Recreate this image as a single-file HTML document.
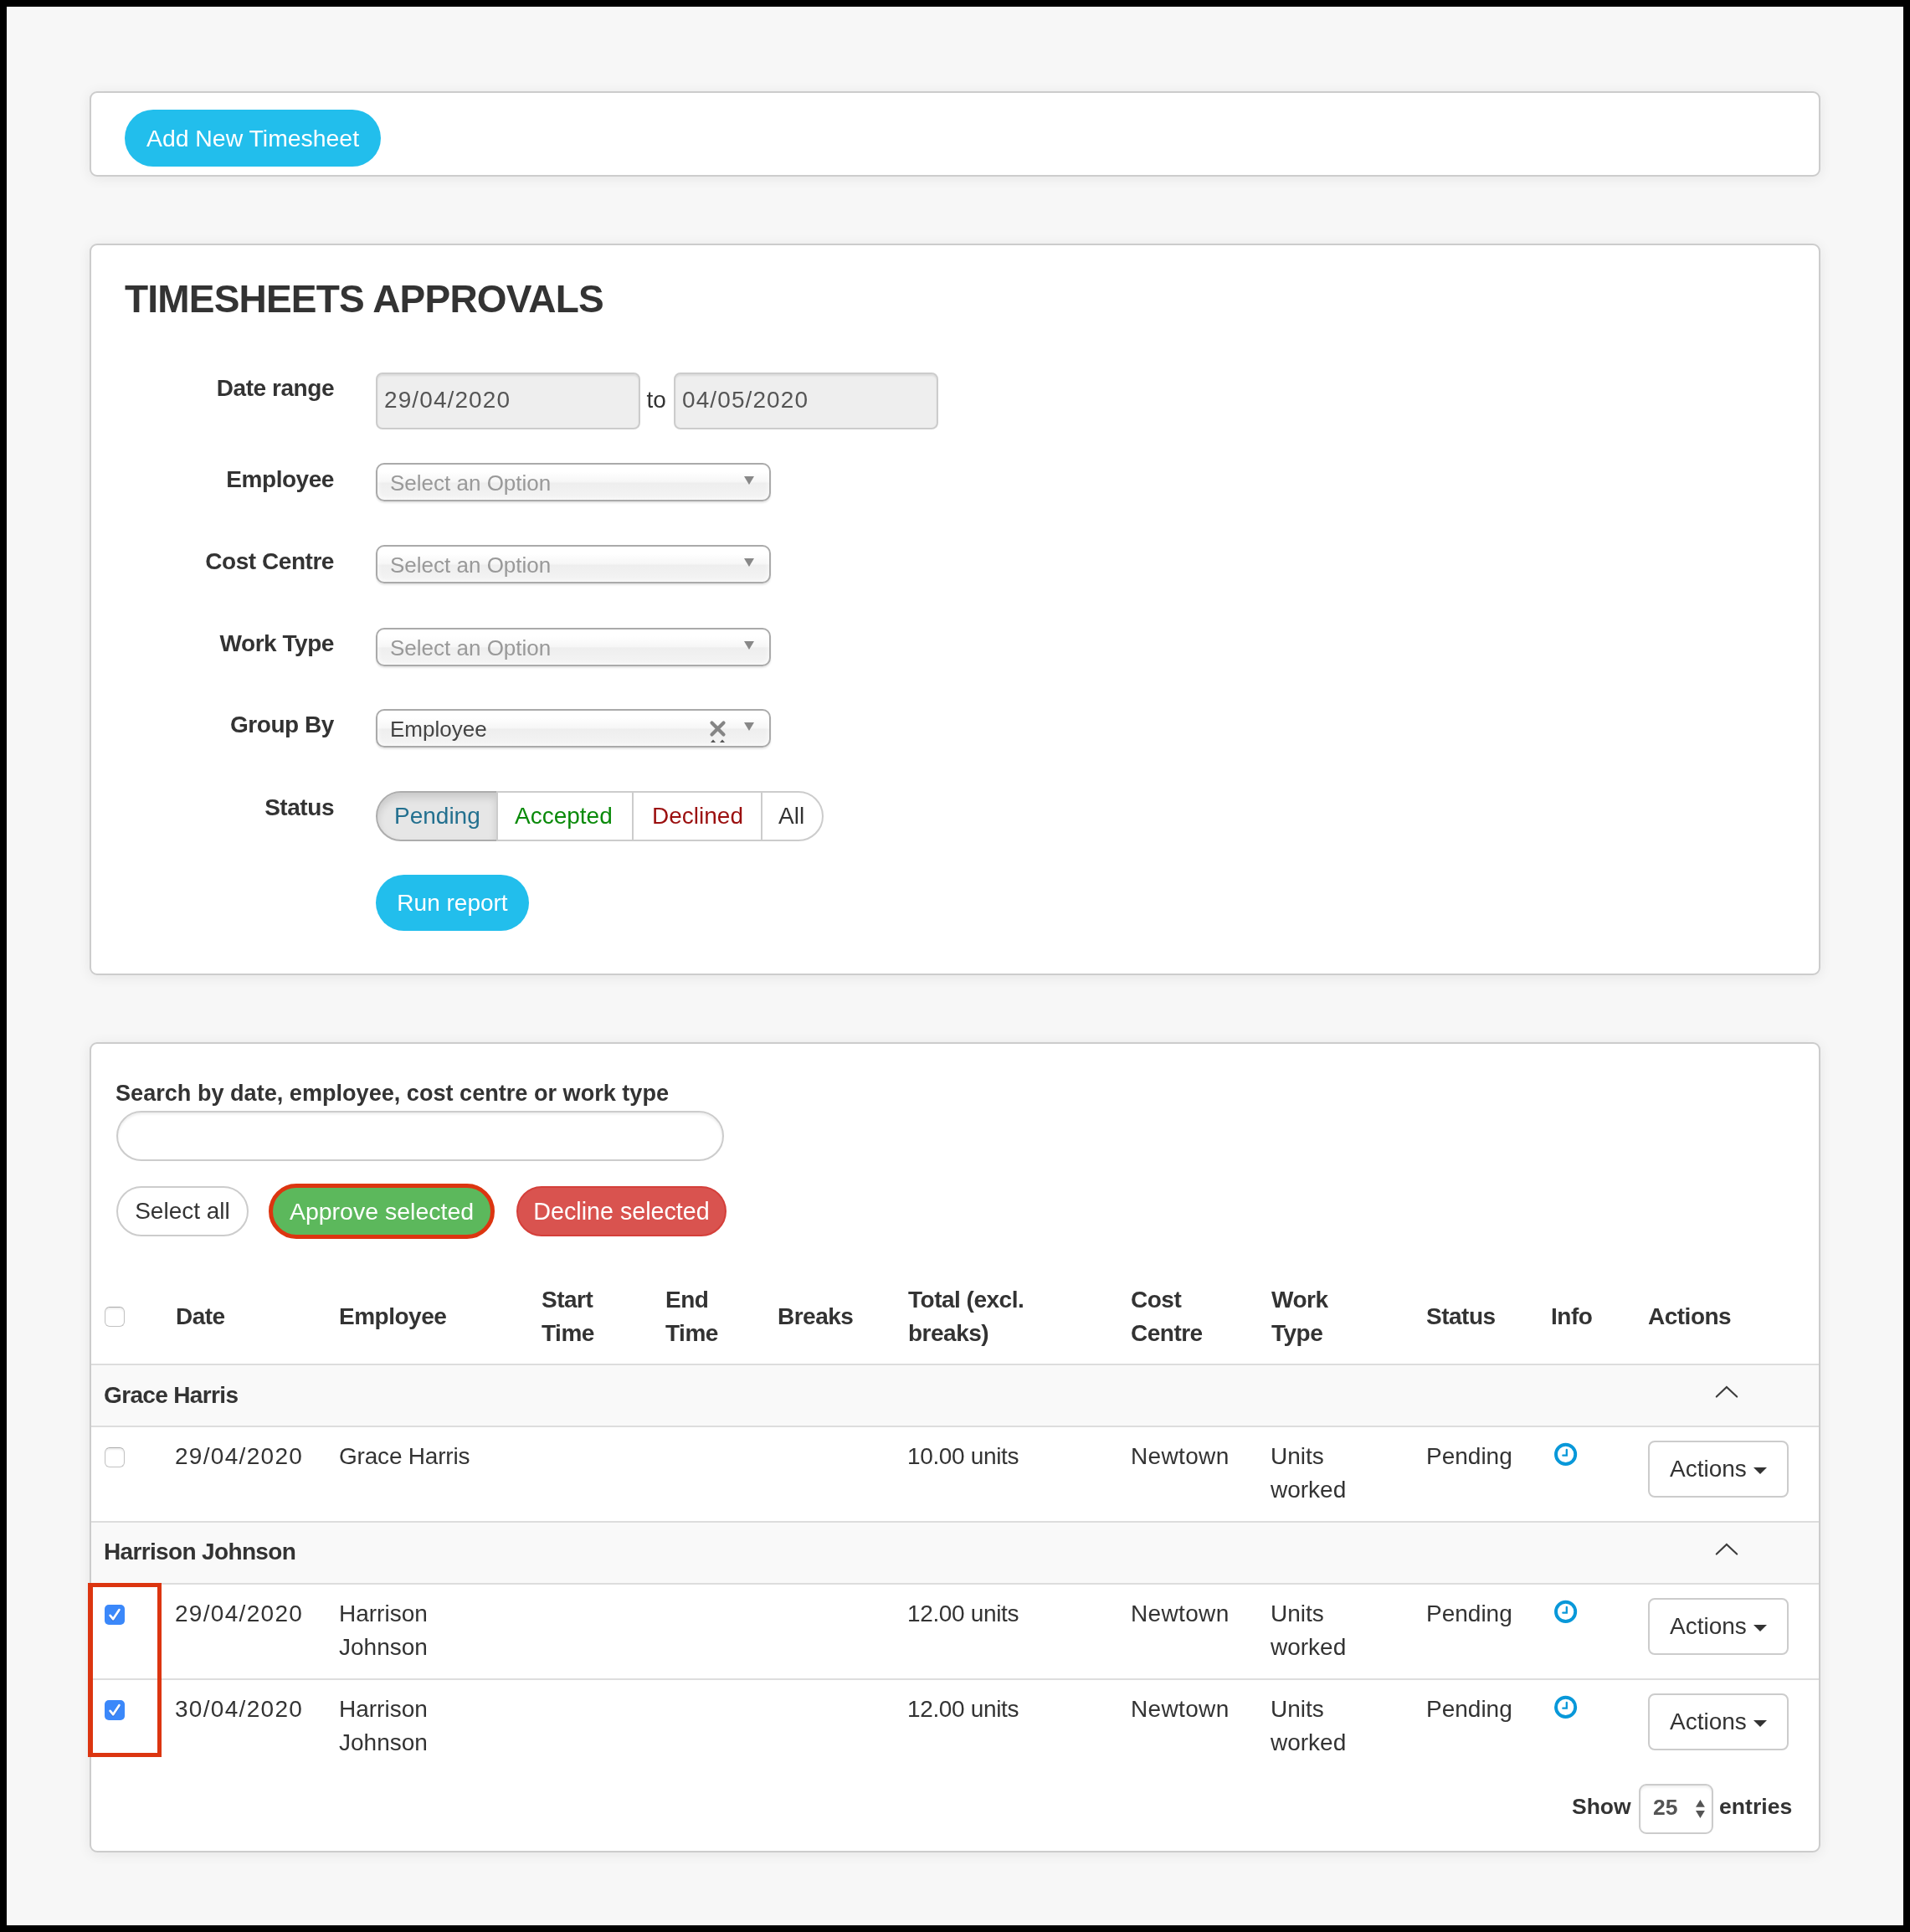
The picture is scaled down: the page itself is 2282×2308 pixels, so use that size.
<!DOCTYPE html>
<html>
<head>
<meta charset="utf-8">
<style>
*{box-sizing:border-box;margin:0;padding:0}
html,body{width:2282px;height:2308px;overflow:hidden;background:#000}
body{font-family:"Liberation Sans",sans-serif;color:#333;position:relative}
#pg{position:absolute;left:8px;top:8px;width:2266px;height:2292px;background:#f7f7f7}
.card{position:absolute;left:107px;width:2068px;background:#fff;border:2px solid #ccc;border-radius:9px;box-shadow:0 2px 16px rgba(0,0,0,.075)}
.t{position:absolute;white-space:nowrap;font-size:28px;line-height:40px}
.b{font-weight:bold;letter-spacing:-0.5px}
.btn{position:absolute;display:flex;align-items:center;justify-content:center;white-space:nowrap;font-size:28px;line-height:40px}
.blue{background:#22beec;color:#fff;border-radius:34px}
.lbl{position:absolute;white-space:nowrap;font-size:28px;letter-spacing:-0.45px;line-height:40px;font-weight:bold;text-align:right;right:calc(2282px - 399px);color:#333}
.date{position:absolute;top:445px;height:68px;width:316px;background:#eee;border:2px solid #ccc;border-radius:8px;box-shadow:inset 0 2px 2px rgba(0,0,0,.075);color:#555;font-size:28px;line-height:40px;padding:11px 0 0 8px;letter-spacing:1.1px}
.sel{position:absolute;left:449px;width:472px;height:46px;border:2px solid #aaa;border-radius:10px;background:linear-gradient(#fff 20%,#f6f6f6 50%,#eee 52%,#f4f4f4 100%);box-shadow:0 0 6px #fff inset,0 2px 2px rgba(0,0,0,.1);font-size:26px;line-height:40px;color:#999;padding:0 0 0 15px}
.sel span{position:absolute;left:15px;top:2px}
.arr{position:absolute;right:18.5px;top:13.5px;width:0;height:0;border-left:6.5px solid transparent;border-right:6.5px solid transparent;border-top:10px solid #888}
.hr{position:absolute;left:109px;width:2064px;height:2px;background:#ddd}
.grp{position:absolute;left:109px;width:2064px;background:#f9f9f9}
.cb{position:absolute;left:125px;width:24px;height:24px;border:1.6px solid #c2c2c2;border-top-color:#aaa;border-radius:6px;background:#fff;box-shadow:inset 0 2px 2px rgba(0,0,0,.07)}
.cbx{position:absolute;left:125px;width:24px;height:24px;border-radius:5px;background:#3d8af7}
.act{position:absolute;left:1969px;width:168px;height:68px;border:2px solid #ccc;border-radius:8px;background:#fff}
</style>
</head>
<body>
<div id="root" style="position:absolute;left:0;top:0;width:2282px;height:2308px;will-change:transform">
<div id="pg"></div>

<!-- Card 1 -->
<div class="card" style="top:109px;height:102px"></div>
<div class="btn blue" style="left:149px;top:131px;width:306px;height:68px;font-size:28.4px">Add New Timesheet</div>

<!-- Card 2 -->
<div class="card" style="top:291px;height:874px"></div>
<div class="t b" style="left:149px;top:332px;font-size:46px;line-height:50px;letter-spacing:-0.8px">TIMESHEETS APPROVALS</div>

<div class="lbl" style="top:444px">Date range</div>
<div class="lbl" style="top:553px">Employee</div>
<div class="lbl" style="top:651px">Cost Centre</div>
<div class="lbl" style="top:749px">Work Type</div>
<div class="lbl" style="top:846px">Group By</div>
<div class="lbl" style="top:945px">Status</div>

<div class="date" style="left:449px">29/04/2020</div>
<div class="t" style="left:772.5px;top:458px">to</div>
<div class="date" style="left:805px">04/05/2020</div>

<div class="sel" style="top:553px"><span>Select an Option</span><i class="arr"></i></div>
<div class="sel" style="top:651px"><span>Select an Option</span><i class="arr"></i></div>
<div class="sel" style="top:750px"><span>Select an Option</span><i class="arr"></i></div>
<div class="sel" style="top:847px"><span style="color:#444">Employee</span><i class="arr"></i></div>
<svg style="position:absolute;left:845px;top:858px" width="26" height="32"><path d="M5.5 5.5 L19.5 19.5 M19.5 5.5 L5.5 19.5" stroke="#858585" stroke-width="4.2" stroke-linecap="round"/><path d="M4 29 L7 25.5 L10 29 Z M15 29 L18 25.5 L21 29 Z" fill="#555"/></svg>

<!-- status group -->
<div style="position:absolute;left:449px;top:945px;width:146px;height:60px;border:2px solid #adadad;border-radius:30px 0 0 30px;background:#e6e6e6;box-shadow:inset 0 6px 10px rgba(0,0,0,.125)"></div>
<div style="position:absolute;left:593px;top:945px;width:164px;height:60px;border:2px solid #ccc;background:#fff"></div>
<div style="position:absolute;left:755px;top:945px;width:156px;height:60px;border:2px solid #ccc;background:#fff"></div>
<div style="position:absolute;left:909px;top:945px;width:75px;height:60px;border:2px solid #ccc;border-radius:0 30px 30px 0;background:#fff"></div>
<div class="t" style="left:471px;top:955px;color:#23708f">Pending</div>
<div class="t" style="left:615px;top:955px;color:#0a8a0a">Accepted</div>
<div class="t" style="left:779px;top:955px;color:#9b0f0f">Declined</div>
<div class="t" style="left:930px;top:955px;color:#333">All</div>

<div class="btn blue" style="left:449px;top:1045px;width:183px;height:67px">Run report</div>

<!-- Card 3 -->
<div class="card" style="top:1245px;height:968px"></div>
<div class="t b" style="left:138px;top:1286px;font-size:27.1px;letter-spacing:0">Search by date, employee, cost centre or work type</div>
<div style="position:absolute;left:139px;top:1327px;width:726px;height:60px;border:2px solid #ccc;border-radius:30px;background:#fff;box-shadow:inset 0 2px 3px rgba(0,0,0,.075)"></div>

<div class="btn" style="left:139px;top:1417px;width:158px;height:60px;border:2px solid #ccc;border-radius:30px;background:#fff;color:#333">Select all</div>
<div class="btn" style="left:321px;top:1414px;width:270px;height:66px;border:5px solid #dc3510;border-radius:33px;background:#5cb85c;color:#fff;font-size:28.5px">Approve selected</div>
<div class="btn" style="left:617px;top:1417px;width:251px;height:60px;border:2px solid #d43f3a;border-radius:30px;background:#d9534f;color:#fff;font-size:28.7px">Decline selected</div>

<!-- table header -->
<div class="cb" style="top:1561px"></div>
<div class="t b" style="left:210px;top:1553px">Date</div>
<div class="t b" style="left:405px;top:1553px">Employee</div>
<div class="t b" style="left:647px;top:1533px">Start<br>Time</div>
<div class="t b" style="left:795px;top:1533px">End<br>Time</div>
<div class="t b" style="left:929px;top:1553px">Breaks</div>
<div class="t b" style="left:1085px;top:1533px">Total (excl.<br>breaks)</div>
<div class="t b" style="left:1351px;top:1533px">Cost<br>Centre</div>
<div class="t b" style="left:1519px;top:1533px">Work<br>Type</div>
<div class="t b" style="left:1704px;top:1553px">Status</div>
<div class="t b" style="left:1853px;top:1553px">Info</div>
<div class="t b" style="left:1969px;top:1553px">Actions</div>
<div class="hr" style="top:1629px"></div>

<!-- group 1 -->
<div class="grp" style="top:1631px;height:72px"></div>
<div class="t b" style="left:124px;top:1647px;letter-spacing:-0.65px">Grace Harris</div>
<svg style="position:absolute;left:2048px;top:1652px" width="30" height="22"><path d="M2.8 16.6 L14.9 4.9 L27.2 16.6" fill="none" stroke="#3c3c3c" stroke-width="2.1" stroke-linecap="round"/></svg>
<div class="hr" style="top:1703px"></div>

<!-- row 1 -->
<div class="cb" style="top:1729px"></div>
<div class="t" style="left:209px;top:1720px;letter-spacing:1.3px">29/04/2020</div>
<div class="t" style="left:405px;top:1720px;letter-spacing:-0.2px">Grace Harris</div>
<div class="t" style="left:1084px;top:1720px;letter-spacing:-0.35px">10.00 units</div>
<div class="t" style="left:1351px;top:1720px;letter-spacing:0.35px">Newtown</div>
<div class="t" style="left:1518px;top:1720px">Units<br>worked</div>
<div class="t" style="left:1704px;top:1720px">Pending</div>
<svg style="position:absolute;left:1855px;top:1722px" width="32" height="32"><circle cx="15.6" cy="15.4" r="11.6" fill="none" stroke="#0898d9" stroke-width="3.9"/><path d="M16.8 9.9 V16.7 H12.3" fill="none" stroke="#0898d9" stroke-width="2.3" stroke-linecap="round"/></svg>
<div class="act" style="top:1721px"></div>
<div class="t" style="left:1995px;top:1734.5px">Actions</div>
<i style="position:absolute;left:2095px;top:1753px;width:0;height:0;border-left:8px solid transparent;border-right:8px solid transparent;border-top:8px solid #333"></i>
<div class="hr" style="top:1817px"></div>

<!-- group 2 -->
<div class="grp" style="top:1819px;height:72px"></div>
<div class="t b" style="left:124px;top:1834px;letter-spacing:-0.65px">Harrison Johnson</div>
<svg style="position:absolute;left:2048px;top:1840px" width="30" height="22"><path d="M2.8 16.6 L14.9 4.9 L27.2 16.6" fill="none" stroke="#3c3c3c" stroke-width="2.1" stroke-linecap="round"/></svg>
<div class="hr" style="top:1891px"></div>

<!-- row 2 -->
<svg style="position:absolute;left:125px;top:1917px" width="24" height="24"><rect x="0" y="0" width="24" height="24" rx="5" fill="#3b88fa"/><path d="M6.6 12.9 L10.1 17.2 L17.4 6.2" fill="none" stroke="rgba(0,0,60,.18)" stroke-width="3" stroke-linecap="round" stroke-linejoin="round" transform="translate(0,1)"/><path d="M6.6 12.9 L10.1 17.2 L17.4 6.2" fill="none" stroke="#fff" stroke-width="2.7" stroke-linecap="round" stroke-linejoin="round"/></svg>
<div class="t" style="left:209px;top:1908px;letter-spacing:1.3px">29/04/2020</div>
<div class="t" style="left:405px;top:1908px">Harrison<br>Johnson</div>
<div class="t" style="left:1084px;top:1908px;letter-spacing:-0.35px">12.00 units</div>
<div class="t" style="left:1351px;top:1908px;letter-spacing:0.35px">Newtown</div>
<div class="t" style="left:1518px;top:1908px">Units<br>worked</div>
<div class="t" style="left:1704px;top:1908px">Pending</div>
<svg style="position:absolute;left:1855px;top:1910px" width="32" height="32"><circle cx="15.6" cy="15.4" r="11.6" fill="none" stroke="#0898d9" stroke-width="3.9"/><path d="M16.8 9.9 V16.7 H12.3" fill="none" stroke="#0898d9" stroke-width="2.3" stroke-linecap="round"/></svg>
<div class="act" style="top:1909px"></div>
<div class="t" style="left:1995px;top:1922.5px">Actions</div>
<i style="position:absolute;left:2095px;top:1941px;width:0;height:0;border-left:8px solid transparent;border-right:8px solid transparent;border-top:8px solid #333"></i>
<div class="hr" style="top:2005px"></div>

<!-- row 3 -->
<svg style="position:absolute;left:125px;top:2031px" width="24" height="24"><rect x="0" y="0" width="24" height="24" rx="5" fill="#3b88fa"/><path d="M6.6 12.9 L10.1 17.2 L17.4 6.2" fill="none" stroke="rgba(0,0,60,.18)" stroke-width="3" stroke-linecap="round" stroke-linejoin="round" transform="translate(0,1)"/><path d="M6.6 12.9 L10.1 17.2 L17.4 6.2" fill="none" stroke="#fff" stroke-width="2.7" stroke-linecap="round" stroke-linejoin="round"/></svg>
<div class="t" style="left:209px;top:2022px;letter-spacing:1.3px">30/04/2020</div>
<div class="t" style="left:405px;top:2022px">Harrison<br>Johnson</div>
<div class="t" style="left:1084px;top:2022px;letter-spacing:-0.35px">12.00 units</div>
<div class="t" style="left:1351px;top:2022px;letter-spacing:0.35px">Newtown</div>
<div class="t" style="left:1518px;top:2022px">Units<br>worked</div>
<div class="t" style="left:1704px;top:2022px">Pending</div>
<svg style="position:absolute;left:1855px;top:2024px" width="32" height="32"><circle cx="15.6" cy="15.4" r="11.6" fill="none" stroke="#0898d9" stroke-width="3.9"/><path d="M16.8 9.9 V16.7 H12.3" fill="none" stroke="#0898d9" stroke-width="2.3" stroke-linecap="round"/></svg>
<div class="act" style="top:2023px"></div>
<div class="t" style="left:1995px;top:2036.5px">Actions</div>
<i style="position:absolute;left:2095px;top:2055px;width:0;height:0;border-left:8px solid transparent;border-right:8px solid transparent;border-top:8px solid #333"></i>

<!-- red highlight -->
<div style="position:absolute;left:105px;top:1891px;width:88px;height:208px;border:5px solid #dc3510;border-left-width:6px"></div>

<!-- footer -->
<div class="t b" style="left:1878px;top:2138px;font-size:26.5px;letter-spacing:0">Show</div>
<div style="position:absolute;left:1958px;top:2131px;width:89px;height:60px;border:2px solid #ccc;border-radius:9px;background:#fff;box-shadow:inset 0 2px 3px rgba(0,0,0,.07)"></div>
<div class="t b" style="left:1975px;top:2139px;color:#555;font-size:26.5px;letter-spacing:0">25</div>
<div class="t b" style="left:2054px;top:2138px;font-size:26.6px;letter-spacing:0">entries</div>
<svg style="position:absolute;left:2024px;top:2148px" width="16" height="26"><path d="M2 10.7 L7.4 2 L12.9 10.7 Z M2 15 L12.9 15 L7.4 24 Z" fill="#555"/></svg>
</div>
</body>
</html>
